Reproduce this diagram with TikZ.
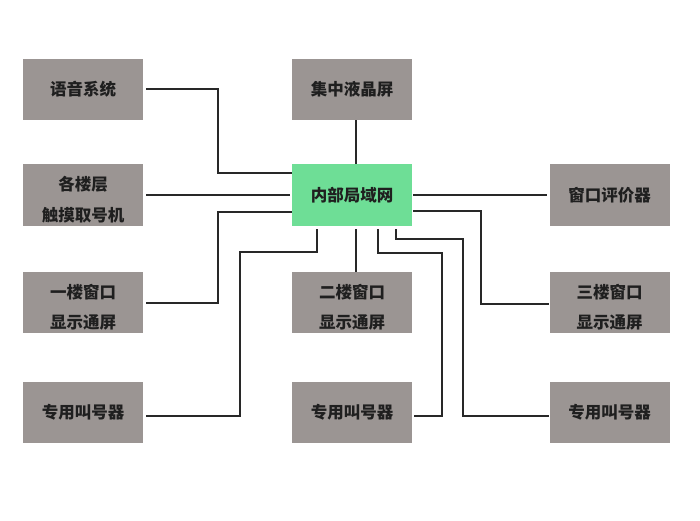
\documentclass[tikz,border=0pt]{standalone}
\usepackage{fontspec}
\newfontfamily\cjk{Noto Sans CJK SC}
\definecolor{boxgray}{RGB}{155,149,147}
\definecolor{langreen}{RGB}{110,222,150}
\definecolor{linec}{RGB}{40,40,40}
\newcommand\boxtwo[1]{\raisebox{-5pt}[\height][\depth]{\begin{tabular}{@{}c@{}}#1\end{tabular}}}
\begin{document}
\begin{tikzpicture}[x=1pt,y=1pt,
  box/.style={fill=boxgray,draw=none,minimum width=120pt,minimum height=61pt,inner sep=0pt,
    font=\cjk\bfseries\fontsize{16.5pt}{30pt}\selectfont,text=black!88},
  conn/.style={draw=linec,line width=2pt}]
\fill[white] (0,0) rectangle (700,520);
\useasboundingbox (0,0) rectangle (700,520);
% left column
\node[box] (yy)  at (83,430.5) {语音系统};
\node[box] (lc)  at (83,325)   {\boxtwo{各楼层\\触摸取号机}};
\node[box] (f1)  at (83,217.5) {\boxtwo{一楼窗口\\显示通屏}};
\node[box] (jh1) at (83,107.5) {专用叫号器};
% centre column
\node[box] (lcd) at (352,430.5) {集中液晶屏};
\node[box,fill=langreen,minimum height=62pt] (lan) at (352,325) {内部局域网};
\node[box] (f2)  at (352,217.5) {\boxtwo{二楼窗口\\显示通屏}};
\node[box] (jh2) at (352,107.5) {专用叫号器};
% right column
\node[box] (pj)  at (609.5,325)   {窗口评价器};
\node[box] (f3)  at (609.5,217.5) {\boxtwo{三楼窗口\\显示通屏}};
\node[box] (jh3) at (609.5,107.5) {专用叫号器};
% connectors
\draw[conn] ([xshift=3pt]yy.east) -- ++(72,0) |- ([yshift=22pt]lan.west);
\draw[conn] ([xshift=3pt]lc.east) -- ([xshift=-2pt]lan.west);
\draw[conn] ([yshift=-17pt]lan.west) -- ++(-74,0) |- ([xshift=3pt]f1.east);
\draw[conn] ([xshift=-35pt,yshift=-3pt]lan.south) -- ++(0,-23) -- ++(-77,0) |- ([xshift=3pt,yshift=-3pt]jh1.east);
\draw[conn] ([xshift=4pt]lcd.south) -- ([xshift=4pt]lan.north);
\draw[conn] ([xshift=4pt,yshift=-3pt]lan.south) -- ([xshift=4pt]f2.north);
\draw[conn] ([xshift=26pt,yshift=-3pt]lan.south) -- ++(0,-24) -- ++(64,0) |- ([xshift=2pt,yshift=-3pt]jh2.east);
\draw[conn] ([xshift=44pt,yshift=-3pt]lan.south) -- ++(0,-10) -- ++(67,0) |- ([yshift=-3pt]jh3.west);
\draw[conn] ([xshift=1pt]lan.east) -- ([xshift=-2pt]pj.west);
\draw[conn] ([xshift=1pt,yshift=-16pt]lan.east) -- ++(68,0) |- ([yshift=-1pt]f3.west);
\end{tikzpicture}
\end{document}
